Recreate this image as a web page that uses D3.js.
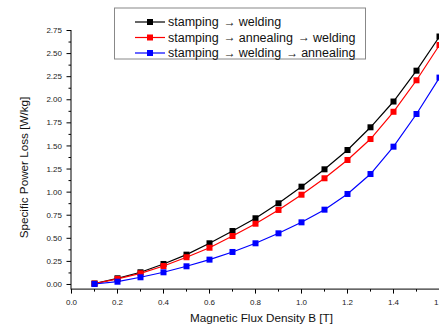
<!DOCTYPE html>
<html><head><meta charset="utf-8">
<script src="https://cdn.jsdelivr.net/npm/d3@7/dist/d3.min.js"></script>
<style>
html,body{margin:0;padding:0;background:#fff;}
svg{display:block;font-family:"Liberation Sans",Arial,sans-serif;}
</style></head>
<body>
<svg id="c" width="439" height="328"></svg>
<script>
const fluxDensity = [0.1,0.2,0.3,0.4,0.5,0.6,0.7,0.8,0.9,1.0,1.1,1.2,1.3,1.4,1.5,1.6];
const stampWeld = [0.01,0.067,0.132,0.222,0.323,0.446,0.579,0.717,0.879,1.059,1.247,1.456,1.702,1.981,2.315,2.685];
const stampAnnealWeld = [0.01,0.06,0.121,0.2,0.295,0.398,0.525,0.658,0.807,0.972,1.15,1.348,1.575,1.87,2.211,2.593];
const stampWeldAnneal = [0.005,0.03,0.078,0.132,0.197,0.269,0.352,0.446,0.554,0.673,0.81,0.98,1.196,1.492,1.846,2.24];
const seriesNames = [["stamping","welding"],["stamping","annealing","welding"],["stamping","welding","annealing"]];
const seriesColors = ["#000000","#ff0000","#0000ff"];
const xTicks = [0.0,0.2,0.4,0.6,0.8,1.0,1.2,1.4,1.6];
const yTicks = [0,0.25,0.5,0.75,1.0,1.25,1.5,1.75,2.0,2.25,2.5,2.75];
const xTitle = "Magnetic Flux Density B [T]";
const yTitle = "Specific Power Loss [W/kg]";

const svg = d3.select("#c");
const x = d3.scaleLinear().domain([0,1.6]).range([71.5,439.5]);
const y = d3.scaleLinear().domain([-0.05,2.75]).range([289.1,30.5]);
const allSeries = [stampWeld, stampAnnealWeld, stampWeldAnneal];

// x axis
const xMinor = d3.range(0.1,1.6,0.2);
const xa = svg.append("g").attr("transform","translate(0,289.1)");
xa.append("line").attr("x1",71).attr("x2",445).attr("stroke","#000").attr("stroke-width",1);
xa.selectAll(".xt").data(xTicks).join("line")
  .attr("x1",d=>x(d)).attr("x2",d=>x(d)).attr("y1",0).attr("y2",4.5).attr("stroke","#000");
xa.selectAll(".xm").data(xMinor).join("line")
  .attr("x1",d=>x(d)).attr("x2",d=>x(d)).attr("y1",0).attr("y2",2.5).attr("stroke","#000");
xa.selectAll(".xl").data(xTicks).join("text")
  .attr("x",d=>x(d)).attr("y",16).attr("text-anchor","middle")
  .attr("font-size","8px").attr("fill","#222").text(d=>d3.format(".1f")(d));

// y axis
const yMinor = d3.range(0.125,2.75,0.25);
const ya = svg.append("g").attr("transform","translate(71,0)");
ya.append("line").attr("y1",289.6).attr("y2",30).attr("stroke","#000");
ya.selectAll(".yt").data(yTicks).join("line")
  .attr("x1",-4.5).attr("x2",0).attr("y1",d=>y(d)).attr("y2",d=>y(d)).attr("stroke","#000");
ya.selectAll(".ym").data(yMinor).join("line")
  .attr("x1",-2.5).attr("x2",0).attr("y1",d=>y(d)).attr("y2",d=>y(d)).attr("stroke","#000");
ya.selectAll(".yl").data(yTicks).join("text")
  .attr("x",-9).attr("y",d=>y(d)).attr("dy","0.33em").attr("text-anchor","end")
  .attr("font-size","8px").attr("fill","#222").text(d=>d3.format(".2f")(d));

// titles
svg.append("text").attr("x",261.5).attr("y",322).attr("text-anchor","middle")
  .attr("font-size","11.7px").attr("fill","#111").text(xTitle);
svg.append("text").attr("transform","translate(28,167.5) rotate(-90)").attr("text-anchor","middle")
  .attr("font-size","11.7px").attr("fill","#111").text(yTitle);

// series
const line = d3.line().x((d,i)=>x(fluxDensity[i])).y(d=>y(d));
allSeries.forEach((s,k)=>{
  const g = svg.append("g");
  g.append("path").datum(s).attr("d",line).attr("fill","none")
    .attr("stroke",seriesColors[k]).attr("stroke-width",1.2);
  g.selectAll("rect").data(s).join("rect")
    .attr("x",(d,i)=>x(fluxDensity[i])-3).attr("y",d=>y(d)-3)
    .attr("width",6).attr("height",6).attr("fill",seriesColors[k]);
});

// legend
const lg = svg.append("g");
lg.append("rect").attr("x",114.5).attr("y",8).attr("width",251).attr("height",51)
  .attr("fill","#fff").attr("stroke","#888").attr("stroke-width",1);
const rowY = [22,37.5,53];
seriesNames.forEach((parts,k)=>{
  lg.append("line").attr("x1",135).attr("x2",165).attr("y1",rowY[k]).attr("y2",rowY[k])
    .attr("stroke",seriesColors[k]).attr("stroke-width",1.2);
  lg.append("rect").attr("x",147).attr("y",rowY[k]-3).attr("width",6).attr("height",6)
    .attr("fill",seriesColors[k]);
  const t = lg.append("text").attr("x",168).attr("y",rowY[k]+4.3)
    .attr("font-size","12.5px").attr("fill","#111");
  parts.forEach((p,j)=>{
    if(j>0){
      t.append("tspan").attr("dx","5").attr("font-size","12px").attr("dy","-0.5").text("\u2192");
      t.append("tspan").attr("dx","3").attr("dy","0.5").text(p);
    } else {
      t.append("tspan").text(p);
    }
  });
});
</script>
</body></html>
